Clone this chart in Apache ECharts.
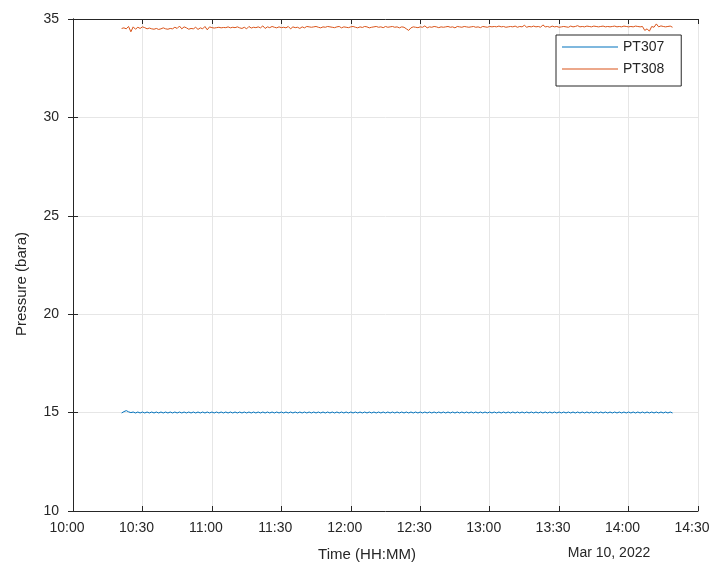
<!DOCTYPE html>
<html><head><meta charset="utf-8">
<script src="https://cdn.jsdelivr.net/npm/echarts@6/dist/echarts.min.js"></script>
<style>html,body{margin:0;padding:0;background:#fff;overflow:hidden}#c{width:709px;height:567px}</style>
</head><body><div id="c"></div>
<script>
// minutes after 10:00, 1-minute samples starting at 10:21
var startMinute = 21;
var stepMinutes = 1;
var xTicks = ['10:00','10:30','11:00','11:30','12:00','12:30','13:00','13:30','14:00','14:30'];
var seriesNames = ['PT307','PT308'];
var pt307 = [
14.98,15.05,15.10,15.04,15.00,
15.03,14.98,15.03,14.98,15.03,14.98,15.03,14.98,15.03,14.98,
15.03,14.98,15.03,14.98,15.03,14.98,15.03,14.98,15.03,14.98,
15.03,14.98,15.03,14.98,15.03,14.98,15.03,14.98,15.03,14.98,
15.03,14.98,15.03,14.98,15.03,14.98,15.03,14.98,15.03,14.98,
15.03,14.98,15.03,14.98,15.03,14.98,15.03,14.98,15.03,14.98,
15.03,14.98,15.03,14.98,15.03,14.98,15.03,14.98,15.03,14.98,
15.03,14.98,15.03,14.98,15.03,14.98,15.03,14.98,15.03,14.98,
15.03,14.98,15.03,14.98,15.03,14.98,15.03,14.98,15.03,14.98,
15.03,14.98,15.03,14.98,15.03,14.98,15.03,14.98,15.03,14.98,
15.03,14.98,15.03,14.98,15.03,14.98,15.03,14.98,15.03,14.98,
15.03,14.98,15.03,14.98,15.03,14.98,15.03,14.98,15.03,14.98,
15.03,14.98,15.03,14.98,15.03,14.98,15.03,14.98,15.03,14.98,
15.03,14.98,15.03,14.98,15.03,14.98,15.03,14.98,15.03,14.98,
15.03,14.98,15.03,14.98,15.03,14.98,15.03,14.98,15.03,14.98,
15.03,14.98,15.03,14.98,15.03,14.98,15.03,14.98,15.03,14.98,
15.03,14.98,15.03,14.98,15.03,14.98,15.03,14.98,15.03,14.98,
15.03,14.98,15.03,14.98,15.03,14.98,15.03,14.98,15.03,14.98,
15.03,14.98,15.03,14.98,15.03,14.98,15.03,14.98,15.03,14.98,
15.03,14.98,15.03,14.98,15.03,14.98,15.03,14.98,15.03,14.98,
15.03,14.98,15.03,14.98,15.03,14.98,15.03,14.98,15.03,14.98,
15.03,14.98,15.03,14.98,15.03,14.98,15.03,14.98,15.03,14.98,
15.03,14.98,15.03,14.98,15.03,14.98,15.03,14.98,15.03,14.98,
15.03,14.98,15.03,14.98,15.03,14.98,15.03,14.98,15.03,14.98,
15.03,14.98,15.03,14.98
];
var pt308 = [
34.52,34.55,34.50,34.62,34.35,34.60,34.48,34.58,34.52,34.60,
34.56,34.50,34.54,34.50,34.48,34.52,34.47,34.50,34.55,34.50,
34.48,34.52,34.50,34.58,34.52,34.64,34.50,34.60,34.55,34.48,
34.52,34.50,34.58,34.47,34.55,34.50,34.62,34.45,34.60,34.56,
34.54,34.56,34.58,34.55,34.57,34.56,34.60,34.55,34.58,34.56,
34.60,34.55,34.52,34.58,34.50,34.62,34.54,34.58,34.56,34.60,
34.55,34.65,34.52,34.60,34.56,34.62,34.58,34.55,34.60,34.56,
34.58,34.55,34.62,34.50,34.60,34.56,34.58,34.52,34.60,34.55,
34.62,34.60,34.58,34.60,34.62,34.58,34.55,34.60,34.58,34.62,
34.60,34.58,34.56,34.60,34.62,34.55,34.60,34.58,34.56,34.60,
34.62,34.58,34.55,34.60,34.57,34.62,34.60,34.55,34.58,34.60,
34.62,34.58,34.60,34.56,34.62,34.58,34.60,34.62,34.58,34.60,
34.55,34.60,34.58,34.50,34.42,34.55,34.60,34.58,34.56,34.60,
34.58,34.65,34.55,34.60,34.58,34.62,34.60,34.56,34.60,34.58,
34.60,34.62,34.58,34.60,34.55,34.62,34.60,34.58,34.62,34.60,
34.58,34.60,34.62,34.58,34.60,34.56,34.62,34.60,34.58,34.62,
34.60,34.62,34.60,34.64,34.60,34.62,34.58,34.60,34.62,34.60,
34.64,34.58,34.62,34.60,34.68,34.58,34.62,34.60,34.64,34.60,
34.62,34.58,34.70,34.60,34.62,34.58,34.64,34.60,34.62,34.58,
34.60,34.62,34.60,34.58,34.64,34.60,34.62,34.66,34.60,34.62,
34.60,34.64,34.62,34.60,34.64,34.62,34.60,34.62,34.64,34.60,
34.62,34.60,34.62,34.64,34.60,34.62,34.60,34.64,34.62,34.60,
34.62,34.60,34.64,34.62,34.60,34.62,34.42,34.50,34.38,34.62,
34.58,34.75,34.60,34.65,34.62,34.60,34.62,34.64,34.58
];
var dateLabel = 'Mar 10, 2022';
var xTitle = 'Time (HH:MM)';
var yTitle = 'Pressure (bara)';

function toPairs(arr){ return arr.map(function(v,i){ return [startMinute + i*stepMinutes, v]; }); }
var TXT = '#262626';
var FONT = '"Liberation Sans", Arial, Helvetica, sans-serif';
var chart = echarts.init(document.getElementById('c'), null, {renderer:'canvas'});
var xCommon = {
  type:'value', min:0, max:270, interval:30,
  axisLine:{show:true, lineStyle:{color:TXT, width:1}},
  axisTick:{show:true, inside:true, length:5, lineStyle:{color:TXT}}
};
var yCommon = {
  type:'value', min:10, max:35, interval:5,
  axisLine:{show:true, lineStyle:{color:TXT, width:1}},
  axisTick:{show:true, inside:true, length:5, lineStyle:{color:TXT}}
};
chart.setOption({
  animation:false,
  textStyle:{fontFamily:FONT},
  grid:{left:73, right:11, top:19, bottom:56, containLabel:false, outerBoundsMode:'none'},
  xAxis:[
    Object.assign({}, xCommon, {position:'bottom',
      axisLabel:{color:TXT, fontSize:14, fontFamily:FONT, margin:10, padding:[0,12,0,0],
        formatter:function(v){ return xTicks[Math.round(v/30)]; }},
      splitLine:{show:true, lineStyle:{color:'#e6e6e6', width:1}}}),
    Object.assign({}, xCommon, {position:'top', axisLabel:{show:false}, splitLine:{show:false}})
  ],
  yAxis:[
    Object.assign({}, yCommon, {position:'left',
      axisLabel:{color:TXT, fontSize:14, fontFamily:FONT, margin:14, padding:[0,0,8,0]},
      splitLine:{show:true, lineStyle:{color:'#e6e6e6', width:1}}}),
    Object.assign({}, yCommon, {position:'right', axisLabel:{show:false}, splitLine:{show:false}})
  ],
  legend:{
    orient:'vertical', left:556, top:35, itemWidth:56, itemHeight:1, itemGap:8,
    padding:[5,17,10,6], borderColor:TXT, borderWidth:1, backgroundColor:'#fff',
    textStyle:{color:TXT, fontSize:14, fontFamily:FONT, lineHeight:14},
    data:[{name:seriesNames[0], icon:'rect'},{name:seriesNames[1], icon:'rect'}]
  },
  graphic:[
    {type:'text', x:367, y:555, style:{text:xTitle, fill:TXT, font:'15px '+FONT, align:'center', verticalAlign:'middle'}},
    {type:'text', x:609, y:553, style:{text:dateLabel, fill:TXT, font:'14px '+FONT, align:'center', verticalAlign:'middle'}},
    {type:'text', x:22, y:284, rotation:Math.PI/2, style:{text:yTitle, fill:TXT, font:'15px '+FONT, align:'center', verticalAlign:'middle'}}
  ],
  series:[
    {name:seriesNames[0], type:'line', data:toPairs(pt307), symbol:'none', color:'#0072BD',
      lineStyle:{width:1, color:'#0072BD'}},
    {name:seriesNames[1], type:'line', data:toPairs(pt308), symbol:'none', color:'#D95319',
      lineStyle:{width:1, color:'#D95319'}}
  ]
});
</script></body></html>
